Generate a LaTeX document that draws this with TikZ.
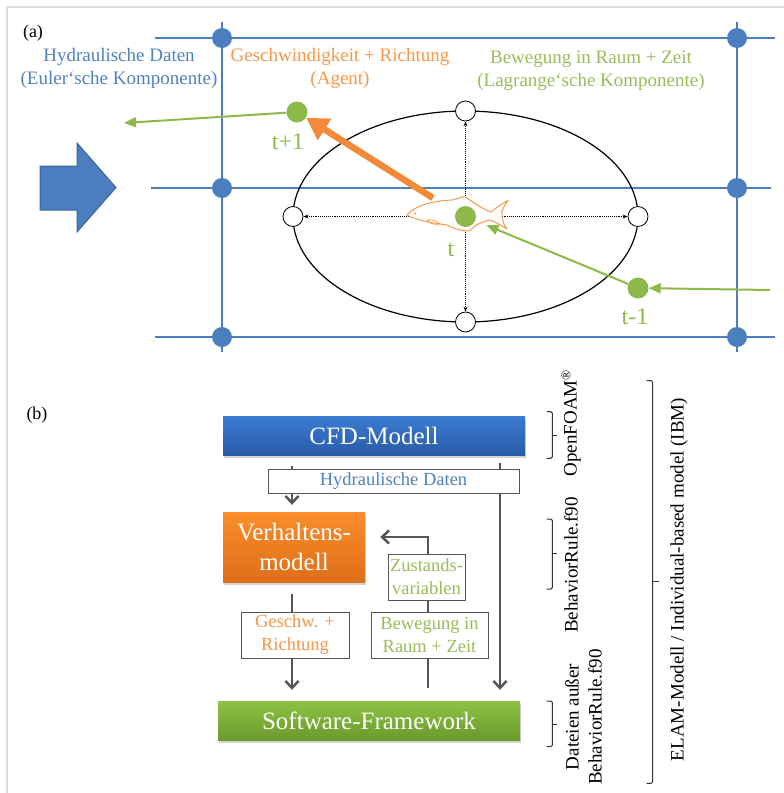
\documentclass[tikz,border=0pt]{standalone}
\usepackage{fontspec}
\setmainfont{Liberation Serif}
\usetikzlibrary{arrows.meta,backgrounds,shadows,calc}

\definecolor{gridblue}{HTML}{4A7EBF}
\definecolor{gridbluedark}{HTML}{3B659C}
\definecolor{txtblue}{HTML}{4F81BD}
\definecolor{agentorange}{HTML}{F79646}
\definecolor{arrorange}{HTML}{F28A3A}
\definecolor{fishorange}{HTML}{F39A50}
\definecolor{lagreen}{HTML}{9BBB59}
\definecolor{dotgreen}{HTML}{8DB84A}
\definecolor{flowgray}{HTML}{555555}
\definecolor{framegray}{HTML}{DDDDDD}
\definecolor{cfdtop}{HTML}{3B7BD2}
\definecolor{cfdbot}{HTML}{2A5CA8}
\definecolor{vertop}{HTML}{FA8E2C}
\definecolor{verbot}{HTML}{DE6E18}
\definecolor{swtop}{HTML}{8DC244}
\definecolor{swbot}{HTML}{6A9A2C}

\tikzset{
  gridline/.style={gridblue, line width=2pt},
  griddot/.style={circle, fill=gridblue, minimum size=20pt, inner sep=0pt},
  ringdot/.style={circle, draw=black, fill=white, line width=0.8pt, minimum size=20pt, inner sep=0pt},
  posdot/.style={circle, fill=dotgreen, minimum size=21pt, inner sep=0pt},
  dotarrow/.style={black, densely dotted, line width=0.9pt, -{Stealth[length=5pt,width=4pt]}},
  greenarrow/.style={dotgreen, line width=2pt, -{Triangle[length=12pt,width=10pt]}},
  smalltext/.style={font=\fontsize{19}{23}\selectfont, align=center},
  steplabel/.style={dotgreen, font=\fontsize{24}{28}\selectfont},
  bigbox/.style={minimum width=302pt, minimum height=39pt, inner sep=0pt, text=white,
    font=\fontsize{25}{30}\selectfont, align=center,
    drop shadow={shadow xshift=1pt, shadow yshift=-2.5pt, opacity=.35}},
  infobox/.style={draw=flowgray, line width=1pt, fill=white, inner sep=1pt,
    font=\fontsize{18.5}{23}\selectfont, align=center},
  flow/.style={flowgray, line width=2.5pt, -{Straight Barb[length=7pt,width=13pt,line width=2.5pt]}},
  bracket/.style={black!80, line width=1pt, rounded corners=1.5pt},
  sidelabel/.style={rotate=90, font=\fontsize{19}{23}\selectfont, align=center},
}

\begin{document}
\begin{tikzpicture}[x=1pt, y=-1pt]
\useasboundingbox (0,0) rectangle (784,793);

% outer frame
\draw[framegray, line width=2pt] (7,793) -- (7,7) -- (784,7);

% ---------------- panel (a) ----------------
\node[font=\fontsize{18}{22}\selectfont] (labela) at (33,33) {(a)};

% Euler grid
\draw[gridline] (155,38) -- (775,38);
\draw[gridline] (151,188) -- (771,188);
\draw[gridline] (155,337) -- (775,337);
\draw[gridline] (222,22) -- (222,352);
\draw[gridline] (737,22) -- (737,352);
\foreach \gx/\gn in {222/l, 737/r}
  \foreach \gy/\gm in {38/t, 188/m, 337/b}
    \node[griddot] (grid\gn\gm) at (\gx,\gy) {};

% flow direction arrow
\fill[gridblue, draw=gridbluedark, line width=1pt]
  (40,166) -- (77,166) -- (77,143) -- (116,187.5) -- (77,232) -- (77,210) -- (40,210) -- cycle;

% headings
\node[smalltext, text=txtblue] (euler) at (119,68.5)
  {Hydraulische Daten\\(Euler‘sche Komponente)};
\node[smalltext, text=agentorange] (agent) at (340,68.5)
  {Geschwindigkeit + Richtung\\(Agent)};
\node[smalltext, text=lagreen] (lagrange) at (591,70.5)
  {Bewegung in Raum + Zeit\\(Lagrange‘sche Komponente)};

% perception range
\draw[black, line width=1.2pt] (465.5,216.5) ellipse [x radius=172.5, y radius=105.5];
\node[ringdot] (rl) at (293,216.5) {};
\node[ringdot] (rr) at (638,216.5) {};
\node[ringdot] (rt) at (465.5,111) {};
\node[ringdot] (rb) at (465.5,322) {};
\coordinate (ctr) at (465.5,216.5);
\draw[dotarrow] (ctr) -- (rl);
\draw[dotarrow] (ctr) -- (rr);
\draw[dotarrow] (ctr) -- (rt);
\draw[dotarrow] (ctr) -- (rb);

% fish
\draw[fishorange, fill=white, line width=1pt, line join=round]
  (407,215) .. controls (415,206) and (430,201) .. (452,200)
  .. controls (458,199) and (462,196) .. (465,197)
  .. controls (472,201) and (480,208) .. (491,212)
  .. controls (497,207) and (503,203) .. (508,200.5)
  .. controls (504,206) and (501,211) .. (502,215)
  .. controls (502,220) and (504,225) .. (507,229)
  .. controls (502,226) and (496,222) .. (490,220)
  .. controls (485,221) and (481,223) .. (478,224)
  .. controls (474,226) and (472,230) .. (468,231)
  .. controls (462,231) and (455,229) .. (447,225)
  .. controls (435,223) and (420,222) .. (407,215) -- cycle;
\draw[fishorange, line width=0.8pt]
  (427,220) .. controls (432,219) and (438,221) .. (440,224)
  .. controls (435,225) and (430,224) .. (427,220);
\fill[fishorange] (415,213.5) circle (1.1);

% positions over time
\node[posdot] (pnow) at (465.5,216.5) {};
\node[posdot] (pnext) at (297,112) {};
\node[posdot] (pprev) at (638,288) {};
\coordinate (inflow) at (770,290);
\coordinate (outflow) at (124,123);
\coordinate (agentstart) at (433,198);

\draw[greenarrow] (pnext) -- (outflow);
\draw[greenarrow, shorten >=12pt] (pprev) -- (pnow);
\draw[greenarrow] (inflow) -- (pprev);
\draw[arrorange, line width=6.5pt, -{Triangle[length=22pt,width=24pt]}]
  (agentstart) -- (pnext);

\node[steplabel] (tnext) at (288,142) {t+1};
\node[steplabel] (tnow) at (451,250) {t};
\node[steplabel] (tprev) at (635,317) {t-1};

% ---------------- panel (b) ----------------
\node[font=\fontsize{18}{22}\selectfont] (labelb) at (37,415) {(b)};

\node[bigbox, top color=cfdtop, bottom color=cfdbot] (cfd) at (374,435.5) {CFD-Modell};
\node[infobox, minimum width=251pt, minimum height=24pt, text=txtblue] (hyd) at (393.5,481) {Hydraulische Daten};
\node[bigbox, minimum width=142pt, minimum height=70pt, top color=vertop, bottom color=verbot] (verh) at (294,547) {Verhaltens-\\modell};
\node[infobox, minimum width=77pt, minimum height=46pt, text=lagreen] (zust) at (426.5,577) {Zustands-\\variablen};
\node[infobox, minimum width=108pt, minimum height=46pt, text=agentorange] (gesch) at (295,635) {Geschw. +\\Richtung};
\node[infobox, minimum width=117pt, minimum height=46pt, text=lagreen] (beweg) at (429.5,635) {Bewegung in\\Raum + Zeit};
\node[bigbox, top color=swtop, bottom color=swbot] (sw) at (369,720.5) {Software-Framework};

\coordinate (rightflow) at (500,0);
\coordinate (feedback) at (428,537);

\begin{pgfonlayer}{background}
  \draw[flow, shorten <=11pt, shorten >=7pt] (cfd.south -| 292,0) -- (verh.north -| 292,0);
  \draw[flow, shorten <=8pt, shorten >=11pt] (cfd.south -| rightflow) -- (sw.north -| rightflow);
  \draw[flow, shorten <=12pt, shorten >=11pt] (verh.south -| 292,0) -- (sw.north -| 292,0);
  \draw[flow, shorten <=13pt, shorten >=15pt] (sw.north -| feedback) -- (feedback) -- (verh.east |- feedback);
\end{pgfonlayer}

% software brackets
\draw[bracket] (546.7,411.7) -- (552.3,411.7) -- (552.3,458.3) -- (546.7,458.3);
\draw[bracket] (552.3,435) -- (557,435);
\draw[bracket] (546.7,519) -- (552.3,519) -- (552.3,589) -- (546.7,589);
\draw[bracket] (552.3,553) -- (557,553);
\draw[bracket] (546.7,701) -- (552.3,701) -- (552.3,746.7) -- (546.7,746.7);
\draw[bracket] (552.3,724) -- (557,724);
\draw[bracket] (646.7,380.7) -- (652.7,380.7) -- (652.7,783.3) -- (646.7,783.3);
\draw[bracket] (652.7,581.7) -- (658.5,581.7);

\node[sidelabel] (foam) at (571,423) {OpenFOAM\textsuperscript{®}};
\node[sidelabel] (rule) at (571,565) {BehaviorRule.f90};
\node[sidelabel] (others) at (583.5,717) {Dateien außer\\BehaviorRule.f90};
\node[sidelabel] (elam) at (679,579.5) {ELAM-Modell / Individual-based model (IBM)};

\end{tikzpicture}
\end{document}
